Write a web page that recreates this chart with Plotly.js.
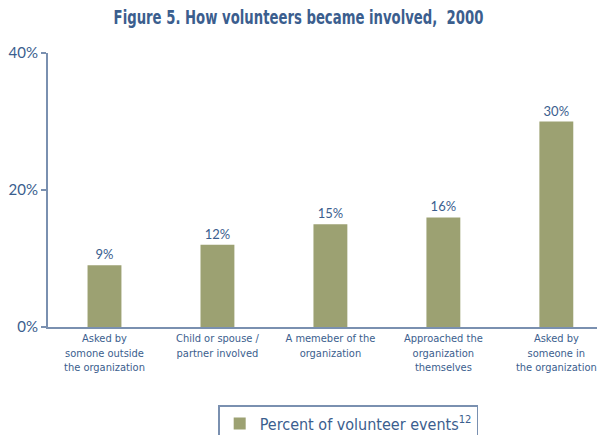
<!DOCTYPE html>
<html><head><meta charset="utf-8">
<script src="https://cdn.plot.ly/plotly-3.0.1.min.js"></script>
<style>body{margin:0;background:#fff}#c{width:597px;height:435px}</style>
</head><body><div id="c"></div>
<script>
const categories = [
  "Asked by<br>somone outside<br>the organization",
  "Child or spouse /<br>partner involved",
  "A memeber of the<br>organization",
  "Approached the<br>organization<br>themselves",
  "Asked by<br>someone in<br>the organization"
];
const values = [9, 12, 15, 16, 30];
const valueLabels = ["9%", "12%", "15%", "16%", "30%"];
const seriesName = "Percent of volunteer events<sup>12</sup>";
const tickVals = [0, 20, 40];
const tickText = ["0%", "20%", "40%"];

const blue = "#3b5e8e";
const axisCol = "#7a90b0";
const narrow = "DejaVu Sans Condensed, Liberation Sans Narrow, sans-serif";

Plotly.newPlot("c", [{
  type: "bar",
  x: [0,1,2,3,4],
  y: values,
  name: seriesName,
  width: 0.3,
  marker: {color: "#9ca172"},
  text: valueLabels,
  textposition: "outside",
  cliponaxis: false,
  textfont: {family: "Lato, sans-serif", size: 13, color: blue},
  showlegend: true
}], {
  width: 597, height: 435,
  margin: {l: 48, r: 0, t: 53, b: 108, autoexpand: false},
  paper_bgcolor: "#fff", plot_bgcolor: "#fff",
  title: {text: "<b>Figure 5. How volunteers became involved,  2000</b>",
    font: {family: narrow, size: 20, color: blue},
    x: 0.5, xref: "container", y: 0.96, yanchor: "middle"},
  xaxis: {
    range: [-0.5, 4.36], tickvals: [0,1,2,3,4], ticktext: categories,
    showgrid: false, zeroline: false, showline: true, linecolor: axisCol, linewidth: 2,
    ticks: "", ticklabeloverflow: "allow", automargin: false,
    tickfont: {family: narrow, size: 11, color: blue}, fixedrange: true
  },
  yaxis: {
    range: [0, 40], tickvals: tickVals, ticktext: tickText, automargin: false,
    showgrid: false, zeroline: false, showline: true, linecolor: axisCol, linewidth: 2,
    ticks: "outside", ticklen: 5, tickcolor: axisCol, tickwidth: 1.5,
    tickfont: {family: "Lato, sans-serif", size: 15, color: blue}
  },
  showlegend: true,
  legend: {x: 0.31, xanchor: "left", y: -0.285, yanchor: "top",
    bordercolor: axisCol, borderwidth: 1.5, bgcolor: "#fff",
    font: {family: narrow, size: 16, color: blue}}
}, {displayModeBar: false, staticPlot: true}).then(function(gd){
  const t = gd.querySelector(".gtitle");
  if (t) {
    const w = t.getBBox().width;
    const cx = parseFloat(t.getAttribute("x")) || 298.5;
    const s = 370 / w;
    if (s < 1) t.setAttribute("transform",
      "translate(" + cx + ",0) scale(" + s + ",1) translate(" + (-cx) + ",0)");
  }
});
</script></body></html>
